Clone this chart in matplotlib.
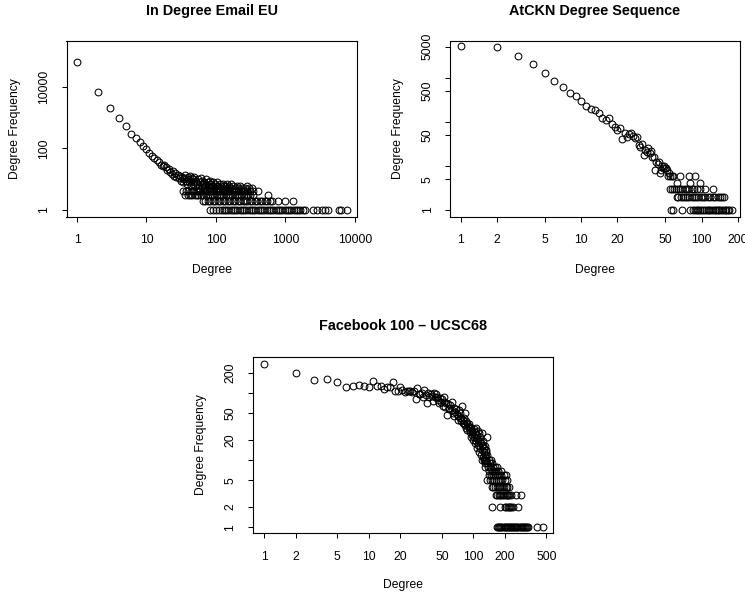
import matplotlib
matplotlib.use("Agg")
import matplotlib.pyplot as plt
import numpy as np

plt.rcParams['font.family'] = ['Liberation Sans', 'DejaVu Sans']

# ---- In Degree Email EU ----
em_top_deg = list(range(1, 26))
em_top_freq = [65000, 6900, 2100, 950, 530, 290, 215, 165, 120, 93, 70, 56, 48, 42,
               35, 30, 26, 29, 24, 20, 22, 17, 15, 18, 13]
em_cloud_deg = [26, 27, 28, 29, 30, 31, 32, 33, 34, 35, 36, 37, 38, 39, 40, 41, 42, 43,
                44, 45, 46, 47, 48, 49, 50, 52, 54, 55, 57, 58, 60, 62, 63, 65, 67, 68,
                70, 72, 73, 75, 77, 79, 81, 83, 85, 88, 90, 93, 96, 99, 102, 105, 108,
                112, 115, 119, 123, 127, 131, 135, 140, 145, 150, 155, 160, 167, 175,
                185, 198, 210, 225, 240, 260, 275, 300, 330]
em_cloud_freq = [16, 12, 14, 11, 13, 9, 12, 10, 8, 11, 14, 9, 7, 12, 10, 8, 13, 9,
                 6, 11, 7, 10, 8, 12, 6, 9, 7, 10, 5, 8, 11, 6, 9, 7, 5, 8,
                 6, 10, 7, 5, 8, 6, 9, 5, 7, 6, 8, 5, 7, 6, 5, 8, 6,
                 5, 7, 6, 5, 7, 6, 5, 6, 7, 5, 6, 5, 7, 6,
                 5, 6, 5, 6, 5, 5, 6, 5, 5]
em_f4_deg = [34, 37, 40, 44, 47, 51, 55, 59, 64, 69, 74, 80, 86, 92, 99, 107, 116, 125,
             134, 144, 156, 168, 181, 195, 210, 226, 244, 263, 283, 305, 345, 405]
em_f3_deg = [36, 39, 42, 45, 50, 53, 56, 61, 66, 71, 76, 82, 88, 95, 103, 111, 119, 128,
             138, 149, 160, 172, 186, 200, 216, 232, 250, 270, 291, 313, 337, 565]
em_f2_deg = [66, 70, 76, 83, 90, 98, 106, 115, 125, 136, 148, 160, 174, 189, 205, 222,
             241, 262, 284, 308, 335, 363, 394, 428, 464, 504, 547, 600, 635, 790, 980,
             1290]
em_f1_deg = [82, 90, 100, 112, 121, 130, 140, 150, 162, 175, 188, 203, 218, 235,
             253, 273, 294, 317, 342, 368, 397, 428, 461, 497, 535, 577, 622, 670, 722,
             778, 838, 903, 973, 1049, 1130, 1218, 1312, 1414, 1523, 1641, 1768, 1900,
             2510, 2800, 3300, 3700, 4050, 5800, 6250, 7600]

# ---- AtCKN Degree Sequence ----
at_top_deg = list(range(1, 40))
at_top_freq = [5050, 4950, 3080, 1990, 1290, 835, 620, 454, 383, 299, 229, 194, 184,
               161, 119, 109, 119, 88, 77, 65, 71, 40, 55, 45, 52, 55, 47, 43, 45,
               30, 27, 32, 18, 23, 21, 25, 20, 22, 16]
at_cloud_deg = [40, 41, 42, 43, 44, 45, 46, 47, 48, 49, 50, 51, 52, 53, 54]
at_cloud_freq = [16, 8, 12, 11, 12, 7, 8, 10, 9, 10, 9, 9, 8, 6, 7]
at_f6_deg = [55, 57, 58, 66, 79, 88]
at_f4_deg = [62, 80, 97]
at_f3_deg = [55, 57, 59, 61, 63, 66, 69, 72, 75, 79, 83, 87, 92, 97, 106, 124]
at_f2_deg = [62, 64, 67, 70, 73, 76, 79, 83, 87, 90, 94, 98, 102, 107, 112, 118, 124,
             130, 136, 142, 148, 153]
at_f1_deg = [56, 58, 68, 80, 84, 88, 91, 94, 97, 100, 104, 108, 112, 116, 120, 124,
             128, 132, 136, 140, 145, 150, 155, 160, 165, 170, 177]

# ---- Facebook 100 - UCSC68 ----
fb_top_deg = list(range(1, 61)) + [62, 63, 64, 65, 66, 67, 68, 70, 71, 72, 73, 74, 75,
                                   76, 77, 78, 79, 80, 81, 82, 83, 84, 85, 86, 87, 88,
                                   89, 90, 91, 92, 93, 94, 95, 96, 97, 98, 99, 100, 101,
                                   102, 103, 104, 105, 106, 107, 108, 109, 110, 111, 112,
                                   113, 114, 115, 116, 117, 118, 119, 120, 121, 122, 123,
                                   124, 125, 126, 127, 128, 129, 130, 131, 132, 133, 134,
                                   135]
fb_top_freq = [270, 200, 155, 163, 144, 121, 126, 130, 128, 121, 152, 128, 126, 113, 121,
               121, 144, 107, 107, 121, 110, 103, 105, 108, 106, 104, 105, 80, 120, 96,
               95, 100, 88, 110, 92, 70, 100, 88, 96, 90, 75, 100, 86, 95, 88, 78, 70,
               84, 74, 80, 64, 86, 72, 62, 70, 47, 68, 58, 60, 65,
               55, 73, 50, 60, 45, 52, 58, 48, 40, 45, 55, 43, 50,
               38, 42, 63, 36, 40, 42, 35, 50, 33, 38, 30, 36, 28,
               32, 34, 30, 26, 31, 28, 22, 30, 24, 27, 20, 25, 29,
               22, 18, 26, 30, 21, 19, 24, 15, 27, 20, 17,
               25, 13, 19, 22, 15, 18, 12, 25, 16, 14, 19,
               11, 17, 13, 15, 12, 10, 16, 14, 11, 13, 12,
               22]
fb_f10_deg = [120, 126, 132, 140, 148]
fb_f9_deg = [128, 136, 145, 152]
fb_f8_deg = [130, 138, 146, 155, 161, 170]
fb_f7_deg = [142, 150, 158, 166, 174, 183]
fb_f6_deg = [140, 148, 155, 162, 170, 178, 186, 195, 205]
fb_f5_deg = [136, 145, 152, 158, 165, 172, 180, 190, 200, 212]
fb_f4_deg = [150, 156, 162, 168, 175, 182, 189, 196, 204, 212, 222]
fb_f3_deg = [165, 170, 175, 180, 186, 192, 198, 204, 210, 216, 222, 228, 258, 285]
fb_f2_deg = [152, 180, 200, 207, 213, 218, 224, 232, 240, 265]
fb_f1_deg = [170, 174, 178, 182, 186, 190, 195, 199, 204, 209, 214, 219, 224, 229, 235,
             240, 246, 252, 258, 264, 270, 277, 284, 291, 298, 305, 312, 320, 328, 335,
             410, 465]


def rows(top_deg, top_freq, cloud_deg, cloud_freq, level_rows):
    d = list(top_deg) + list(cloud_deg)
    f = list(top_freq) + list(cloud_freq)
    for lvl, degs in level_rows:
        d += list(degs)
        f += [lvl] * len(degs)
    return np.array(d, float), np.array(f, float)


em_x, em_y = rows(em_top_deg, em_top_freq, em_cloud_deg, em_cloud_freq,
                  [(4, em_f4_deg), (3, em_f3_deg), (2, em_f2_deg), (1, em_f1_deg)])
at_x, at_y = rows(at_top_deg, at_top_freq, at_cloud_deg, at_cloud_freq,
                  [(6, at_f6_deg), (4, at_f4_deg), (3, at_f3_deg), (2, at_f2_deg),
                   (1, at_f1_deg)])
fb_x, fb_y = rows(fb_top_deg, fb_top_freq, [], [],
                  [(10, fb_f10_deg), (9, fb_f9_deg), (8, fb_f8_deg), (7, fb_f7_deg),
                   (6, fb_f6_deg), (5, fb_f5_deg), (4, fb_f4_deg), (3, fb_f3_deg),
                   (2, fb_f2_deg), (1, fb_f1_deg)])

W, H = 745, 598
fig = plt.figure(figsize=(W / 100, H / 100), dpi=100)


def box(l, r, t, b):
    return [l / W, 1 - b / H, (r - l) / W, (b - t) / H]


def panel(rect, x, y, xlim, ylim, xt, xtl, yt, ytl, title, title_y, ylab_x, xlab_y):
    ax = fig.add_axes(box(*rect))
    ax.plot(x, y, 'o', mfc='none', mec='black', ms=4.9, mew=0.75, clip_on=False)
    ax.set_xscale('log')
    ax.set_yscale('log')
    ax.set_xlim(10 ** xlim[0], 10 ** xlim[1])
    ax.set_ylim(10 ** ylim[0], 10 ** ylim[1])
    ax.xaxis.set_minor_locator(matplotlib.ticker.NullLocator())
    ax.yaxis.set_minor_locator(matplotlib.ticker.NullLocator())
    ax.set_xticks(xt)
    ax.set_xticklabels(xtl)
    ax.set_yticks(yt)
    ax.set_yticklabels(ytl, rotation=90, va='center')
    ax.tick_params(length=3.6, width=0.75, labelsize=8.7)
    ax.tick_params(axis='x', pad=9.0)
    ax.tick_params(axis='y', pad=8.0)
    for s in ax.spines.values():
        s.set_linewidth(0.8)
    l, r, t, b = rect
    cx = (l + r) / 2
    fig.text(cx / W, 1 - title_y / H, title, ha='center', va='center',
             fontsize=10.4, fontweight='bold')
    fig.text(ylab_x / W, 1 - (t + b) / 2 / H, 'Degree Frequency', rotation=90,
             ha='center', va='center', fontsize=8.7)
    fig.text(cx / W, 1 - xlab_y / H, 'Degree', ha='center', va='center', fontsize=8.7)
    return ax


panel((66.5, 357, 40.5, 216.7), em_x, em_y, (-0.151, 4.029), (-0.2175, 5.503),
      [1, 10, 100, 1000, 10000], ['1', '10', '100', '1000', '10000'],
      [1, 100, 10000], ['1', '100', '10000'],
      'In Degree Email EU', 11.5, 15, 270)

panel((450, 739.5, 40.5, 216.7), at_x, at_y, (-0.0888, 2.3137), (-0.1518, 3.839),
      [1, 2, 5, 10, 20, 50, 100, 200], ['1', '2', '5', '10', '20', '50', '100', '200'],
      [1, 5, 10, 50, 100, 500, 1000, 5000], ['1', '5', '', '50', '', '500', '', '5000'],
      'AtCKN Degree Sequence', 11.5, 398, 270)

panel((252.7, 553, 356.7, 533.3), fb_x, fb_y, (-0.111, 2.7627), (-0.0893, 2.5387),
      [1, 2, 5, 10, 20, 50, 100, 200, 500],
      ['1', '2', '5', '10', '20', '50', '100', '200', '500'],
      [1, 2, 5, 10, 20, 50, 100, 200], ['1', '2', '5', '', '20', '50', '', '200'],
      'Facebook 100 \u2013 UCSC68', 326.5, 201, 585)

fig.savefig('out.png', dpi=100)
